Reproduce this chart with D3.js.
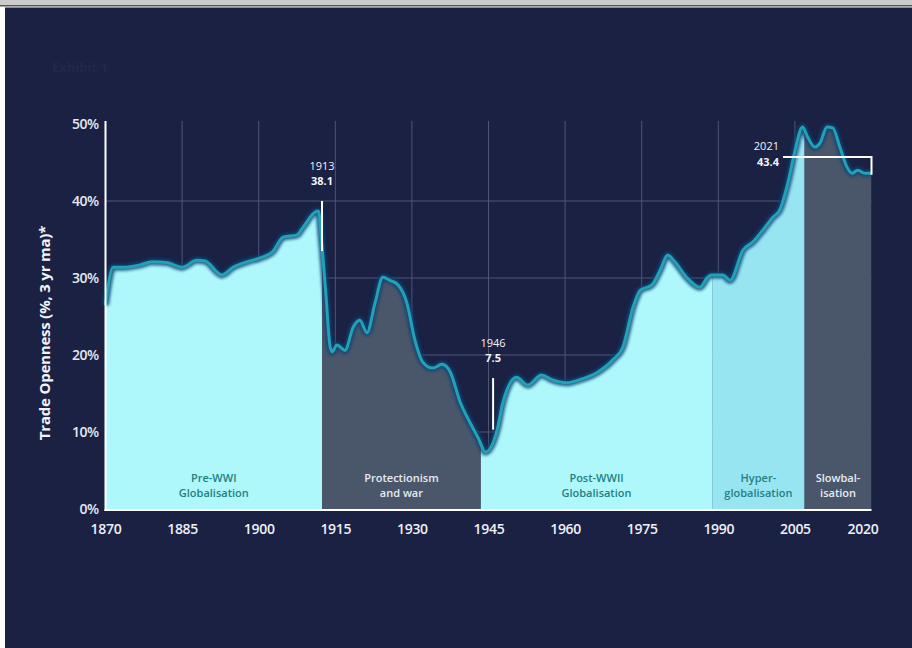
<!DOCTYPE html>
<html>
<head>
<meta charset="utf-8">
<script src="https://cdn.jsdelivr.net/npm/d3@7"></script>
<style>
  html, body { margin: 0; padding: 0; background: #ffffff; }
  svg { display: block; }
  text { font-family: "Open Sans", Lato, "DejaVu Sans", sans-serif; }
</style>
</head>
<body>
<svg id="chart" width="912" height="648"></svg>
<script>
// ---- data ----
const years = [1870, 1871.5, 1873.4, 1876.8, 1879.1, 1882, 1885, 1887.9, 1889.5, 1892.8, 1895, 1897.7,
  1900.3, 1902.7, 1904.8, 1907.5, 1908.7, 1911.1, 1911.7, 1912.3, 1913.1, 1914, 1914.4, 1915.3, 1916.9,
  1918.5, 1919.8, 1921.2, 1922.8, 1924.3, 1925.7, 1927.3, 1929, 1930.6, 1932.2, 1934.1, 1935.9, 1937.5,
  1939.5, 1941.4, 1943, 1944.4, 1946.7, 1947.8, 1950.5, 1952.7, 1955.4, 1957.4, 1960.3, 1962.9, 1966.2,
  1969.4, 1971.3, 1973.3, 1974.7, 1977, 1978.6, 1980.1, 1981.5, 1983.8, 1986.4, 1987.9, 1988.7, 1990.9,
  1992.3, 1994.8, 1996.8, 1998.7, 2000.7, 2002, 2003.6, 2004.9, 2006.5, 2007.5, 2008.9, 2009.9, 2011.3,
  2012.4, 2013.8, 2015.2, 2016.2, 2017.3, 2018.7, 2020];
const openness = [26.5, 31.4, 31.4, 31.7, 32.1, 32.0, 31.4, 32.3, 32.2, 30.4, 31.4, 32.1,
  32.6, 33.4, 35.3, 35.6, 36.6, 38.6, 38.7, 34.9, 28.4, 21.0, 20.4, 21.3, 20.6,
  23.6, 24.5, 22.9, 26.8, 30.1, 29.7, 29.1, 26.8, 21.9, 19.0, 18.3, 18.8, 17.8,
  13.8, 11.2, 9.2, 7.4, 10.3, 13.8, 17.1, 16.1, 17.4, 16.8, 16.4, 16.8, 17.7,
  19.4, 21.0, 26.2, 28.4, 29.1, 31.0, 33.0, 32.1, 30.1, 28.8, 30.1, 30.4, 30.4,
  29.7, 33.6, 34.7, 36.2, 37.9, 38.8, 42.3, 46.2, 49.6, 48.3, 47.0, 47.5, 49.6,
  49.5, 47.0, 44.4, 43.6, 44.0, 43.6, 43.6];

const periodNames = [["Pre-WWI", "Globalisation"], ["Protectionism", "and war"], ["Post-WWII", "Globalisation"], ["Hyper-", "globalisation"], ["Slowbal-", "isation"]];
const periodStart = [1870, 1912.4, 1943.5, 1988.8, 2006.9];
const periodEnd   = [1912.4, 1943.5, 1988.8, 2006.9, 2020];
const periodKind  = ["glob", "prot", "glob", "hyper", "prot"];

const xTicks = [1870, 1885, 1900, 1915, 1930, 1945, 1960, 1975, 1990, 2005, 2020];
const yTicks = [0, 10, 20, 30, 40, 50];
const yTitle = "Trade Openness (%, 3 yr ma)*";

const annotations = [
  { year: 1912.4, label: "1913", value: "38.1", from: 40, to: 33.5 },
  { year: 1945.9, label: "1946", value: "7.5", from: 17.0, to: 10.3 }
];
const endLabel = { year: "2021", value: "43.4", bracketLevel: 45.7, endValue: 43.4 };

// ---- styles ----
const fillColor = { glob: "#aef7fa", prot: "#4a5669", hyper: "#98e5f2" };
const labelColor = { glob: "#247f80", prot: "#e8ebf1", hyper: "#247f80" };

const svg = d3.select("#chart");
const W = 912, H = 648;

// page frame
svg.append("rect").attr("width", W).attr("height", H).attr("fill", "#ffffff");
svg.append("rect").attr("width", W).attr("height", 5).attr("fill", "#cbcbcb");
svg.append("rect").attr("y", 5).attr("width", W).attr("height", 1.5).attr("fill", "#555555");
svg.append("rect").attr("x", 5).attr("y", 7.5).attr("width", W - 5).attr("height", H - 7.5).attr("fill", "#1b2143");

// faint heading
svg.append("text").attr("x", 52).attr("y", 72).attr("font-size", 13).attr("font-weight", 700)
  .attr("fill", "#222847").text("Exhibit 1");

const x = d3.scaleLinear().domain([1870, 2020]).range([105.5, 871.5]);
const y = d3.scaleLinear().domain([0, 50]).range([509, 124]);

// defs
const defs = svg.append("defs");
const blur = defs.append("filter").attr("id", "glow").attr("x", "-5%").attr("y", "-5%").attr("width", "110%").attr("height", "110%");
blur.append("feGaussianBlur").attr("stdDeviation", 1.6);
periodStart.forEach((s, i) => {
  defs.append("clipPath").attr("id", "clip" + i).append("rect")
    .attr("x", x(s)).attr("y", 0).attr("width", x(periodEnd[i]) - x(s)).attr("height", H);
});

// gridlines
const grid = svg.append("g").attr("stroke", "#5d6286").attr("stroke-width", 1).attr("opacity", 0.8);
xTicks.filter(t => t > 1870 && t < 2020).forEach(t => {
  grid.append("line").attr("x1", x(t)).attr("x2", x(t)).attr("y1", y(50) - 3).attr("y2", y(0));
});
yTicks.filter(t => t > 0 && t < 50).forEach(t => {
  grid.append("line").attr("x1", x(1870)).attr("x2", x(2020)).attr("y1", y(t)).attr("y2", y(t));
});

const pts = years.map((yr, i) => [yr, openness[i]]);
const area = d3.area().x(d => x(d[0])).y0(y(0)).y1(d => y(d[1])).curve(d3.curveMonotoneX);
const line = d3.line().x(d => x(d[0])).y(d => y(d[1])).curve(d3.curveMonotoneX);

// period fills
periodStart.forEach((s, i) => {
  svg.append("path").attr("d", area(pts)).attr("fill", fillColor[periodKind[i]])
    .attr("clip-path", "url(#clip" + i + ")");
});

// line with glow
svg.append("path").attr("d", line(pts)).attr("fill", "none").attr("stroke", "#0a4477")
  .attr("stroke-width", 7).attr("opacity", 0.85).attr("filter", "url(#glow)").attr("stroke-linejoin", "round");
svg.append("path").attr("d", line(pts)).attr("fill", "none").attr("stroke", "#22a2b4")
  .attr("stroke-width", 3).attr("stroke-linejoin", "round");

// period labels (two separate lines)
periodStart.forEach((s, i) => {
  const cx = (x(s) + x(periodEnd[i])) / 2;
  [0, 1].forEach(k => {
    svg.append("text").attr("x", cx).attr("y", 482 + k * 15).attr("text-anchor", "middle")
      .attr("font-size", 11).attr("font-weight", 600)
      .attr("fill", labelColor[periodKind[i]]).text(periodNames[i][k]);
  });
});

// axes lines
svg.append("line").attr("x1", x(1870)).attr("x2", x(1870)).attr("y1", 121).attr("y2", 511)
  .attr("stroke", "#ffffff").attr("stroke-width", 2);
svg.append("line").attr("x1", x(1870) - 1).attr("x2", x(2020)).attr("y1", 510).attr("y2", 510)
  .attr("stroke", "#ffffff").attr("stroke-width", 2);

// x axis
const xAxis = svg.append("g").attr("transform", "translate(0,509)")
  .call(d3.axisBottom(x).tickValues(xTicks).tickFormat(d3.format("d")).tickSize(0).tickPadding(15));
xAxis.select(".domain").remove();
xAxis.selectAll("text").attr("fill", "#eef0f5").attr("font-size", 14).attr("font-weight", 600)
  .attr("letter-spacing", -0.3).attr("font-family", "'Open Sans', sans-serif");
xAxis.selectAll(".tick").filter(d => d === 2020).select("text").attr("dx", -9);

// y axis
const yAxis = svg.append("g").attr("transform", "translate(" + x(1870) + ",0)")
  .call(d3.axisLeft(y).tickValues(yTicks).tickFormat(d => d + "%").tickSize(0).tickPadding(7));
yAxis.select(".domain").remove();
yAxis.selectAll("text").attr("fill", "#e6e8f0").attr("font-size", 14).attr("font-weight", 600)
  .attr("letter-spacing", -0.5).attr("font-family", "'Open Sans', sans-serif");

svg.append("text").attr("transform", "translate(50,333) rotate(-90)").attr("text-anchor", "middle")
  .attr("font-size", 15).attr("font-weight", 700).attr("letter-spacing", -0.2)
  .attr("fill", "#f2f3f7").text(yTitle);

// annotations
annotations.forEach(a => {
  const ax = x(a.year);
  svg.append("line").attr("x1", ax).attr("x2", ax).attr("y1", y(a.from)).attr("y2", y(a.to))
    .attr("stroke", "#ffffff").attr("stroke-width", 2);
  svg.append("text").attr("x", ax).attr("y", y(a.from) - 31).attr("text-anchor", "middle")
    .attr("font-size", 11).attr("font-weight", 400).attr("fill", "#f2f3f7").text(a.label);
  svg.append("text").attr("x", ax).attr("y", y(a.from) - 16).attr("text-anchor", "middle")
    .attr("font-size", 11).attr("font-weight", 700).attr("fill", "#f2f3f7").text(a.value);
});

// end bracket
const by = y(endLabel.bracketLevel);
svg.append("path").attr("d", "M" + 783 + "," + by + "H" + x(2020) + "V" + y(endLabel.endValue))
  .attr("fill", "none").attr("stroke", "#ffffff").attr("stroke-width", 2);
svg.append("text").attr("x", 779).attr("y", by - 7).attr("text-anchor", "end")
  .attr("font-size", 11).attr("font-weight", 400).attr("fill", "#f2f3f7").text(endLabel.year);
svg.append("text").attr("x", 779).attr("y", by + 9).attr("text-anchor", "end")
  .attr("font-size", 11).attr("font-weight", 700).attr("fill", "#f2f3f7").text(endLabel.value);
</script>
</body>
</html>
